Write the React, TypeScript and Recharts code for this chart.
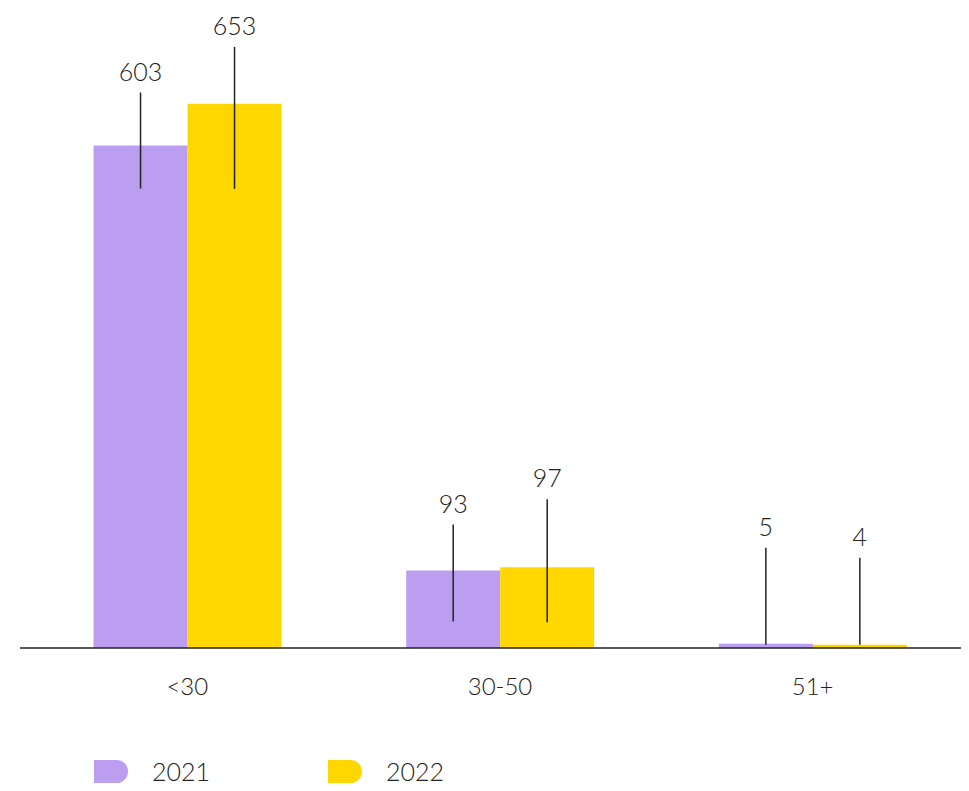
import React from 'react';
import { BarChart, Bar, XAxis, YAxis, LabelList } from 'recharts';

const categories = ['<30', '30-50', '51+'];
const values2021 = [603, 93, 5];
const values2022 = [653, 97, 4];
const seriesNames = ['2021', '2022'];

const COLORS = { y2021: '#BC9EF0', y2022: '#FFD700' };
const INK = '#222222';
const FONT = 'Lato, "Open Sans", sans-serif';

// leader lines: how far above / below the bar top the line runs (px)
const LEADERS: Record<string, { up: number[]; down: number[] }> = {
  y2021: { up: [53, 46, 96], down: [43, 51, 1] },
  y2022: { up: [57, 68, 87], down: [85, 55, 0] },
};

const data = categories.map((name, i) => ({
  name,
  y2021: values2021[i],
  y2022: values2022[i],
}));

const makeLabel = (key: string) => (props: any) => {
  const { x, y, width, value, index } = props;
  const cx = Number(x) + Number(width) / 2;
  const top = Number(y) - LEADERS[key].up[index];
  const bottom = Number(y) + LEADERS[key].down[index];
  return (
    <g>
      <line x1={cx} x2={cx} y1={top} y2={bottom} stroke={INK} strokeWidth={1.5} />
      <text
        x={cx}
        y={top - 12}
        textAnchor="middle"
        fill={INK}
        fontFamily={FONT}
        fontWeight={300}
        fontSize={25}
      >
        {value}
      </text>
    </g>
  );
};

const CategoryTick = (props: any) => {
  const { x, y, payload } = props;
  return (
    <text
      x={x}
      y={y}
      dy={45}
      textAnchor="middle"
      fill={INK}
      fontFamily={FONT}
      fontWeight={300}
      fontSize={24}
    >
      {payload.value}
    </text>
  );
};

const LegendItem = ({ color, label, left }: { color: string; label: string; left: number }) => (
  <div style={{ position: 'absolute', left, top: 760, display: 'flex', alignItems: 'center' }}>
    <div
      style={{
        width: 34,
        height: 23,
        background: color,
        borderRadius: '0 12px 12px 0',
      }}
    />
    <span
      style={{
        marginLeft: 24,
        fontFamily: FONT,
        fontWeight: 300,
        fontSize: 25,
        color: INK,
        lineHeight: '23px',
      }}
    >
      {label}
    </span>
  </div>
);

export default function App() {
  return (
    <div style={{ position: 'relative', width: 969, height: 791, margin: -8, background: '#fff' }}>
      <BarChart
        width={969}
        height={791}
        data={data}
        margin={{ top: 48, right: 0, bottom: 113, left: 20 }}
        barGap={0}
        barCategoryGap="20%"
      >
        <XAxis
          dataKey="name"
          height={30}
          padding={{ left: 11, right: 0 }}
          axisLine={{ stroke: INK, strokeWidth: 1.5 }}
          tickLine={false}
          tickSize={0}
          tick={<CategoryTick />}
          interval={0}
        />
        <YAxis hide domain={[0, 720]} />
        <Bar dataKey="y2021" fill={COLORS.y2021} isAnimationActive={false}>
          <LabelList dataKey="y2021" content={makeLabel('y2021')} />
        </Bar>
        <Bar dataKey="y2022" fill={COLORS.y2022} isAnimationActive={false}>
          <LabelList dataKey="y2022" content={makeLabel('y2022')} />
        </Bar>
      </BarChart>
      <LegendItem color={COLORS.y2021} label={seriesNames[0]} left={94} />
      <LegendItem color={COLORS.y2022} label={seriesNames[1]} left={328} />
    </div>
  );
}
